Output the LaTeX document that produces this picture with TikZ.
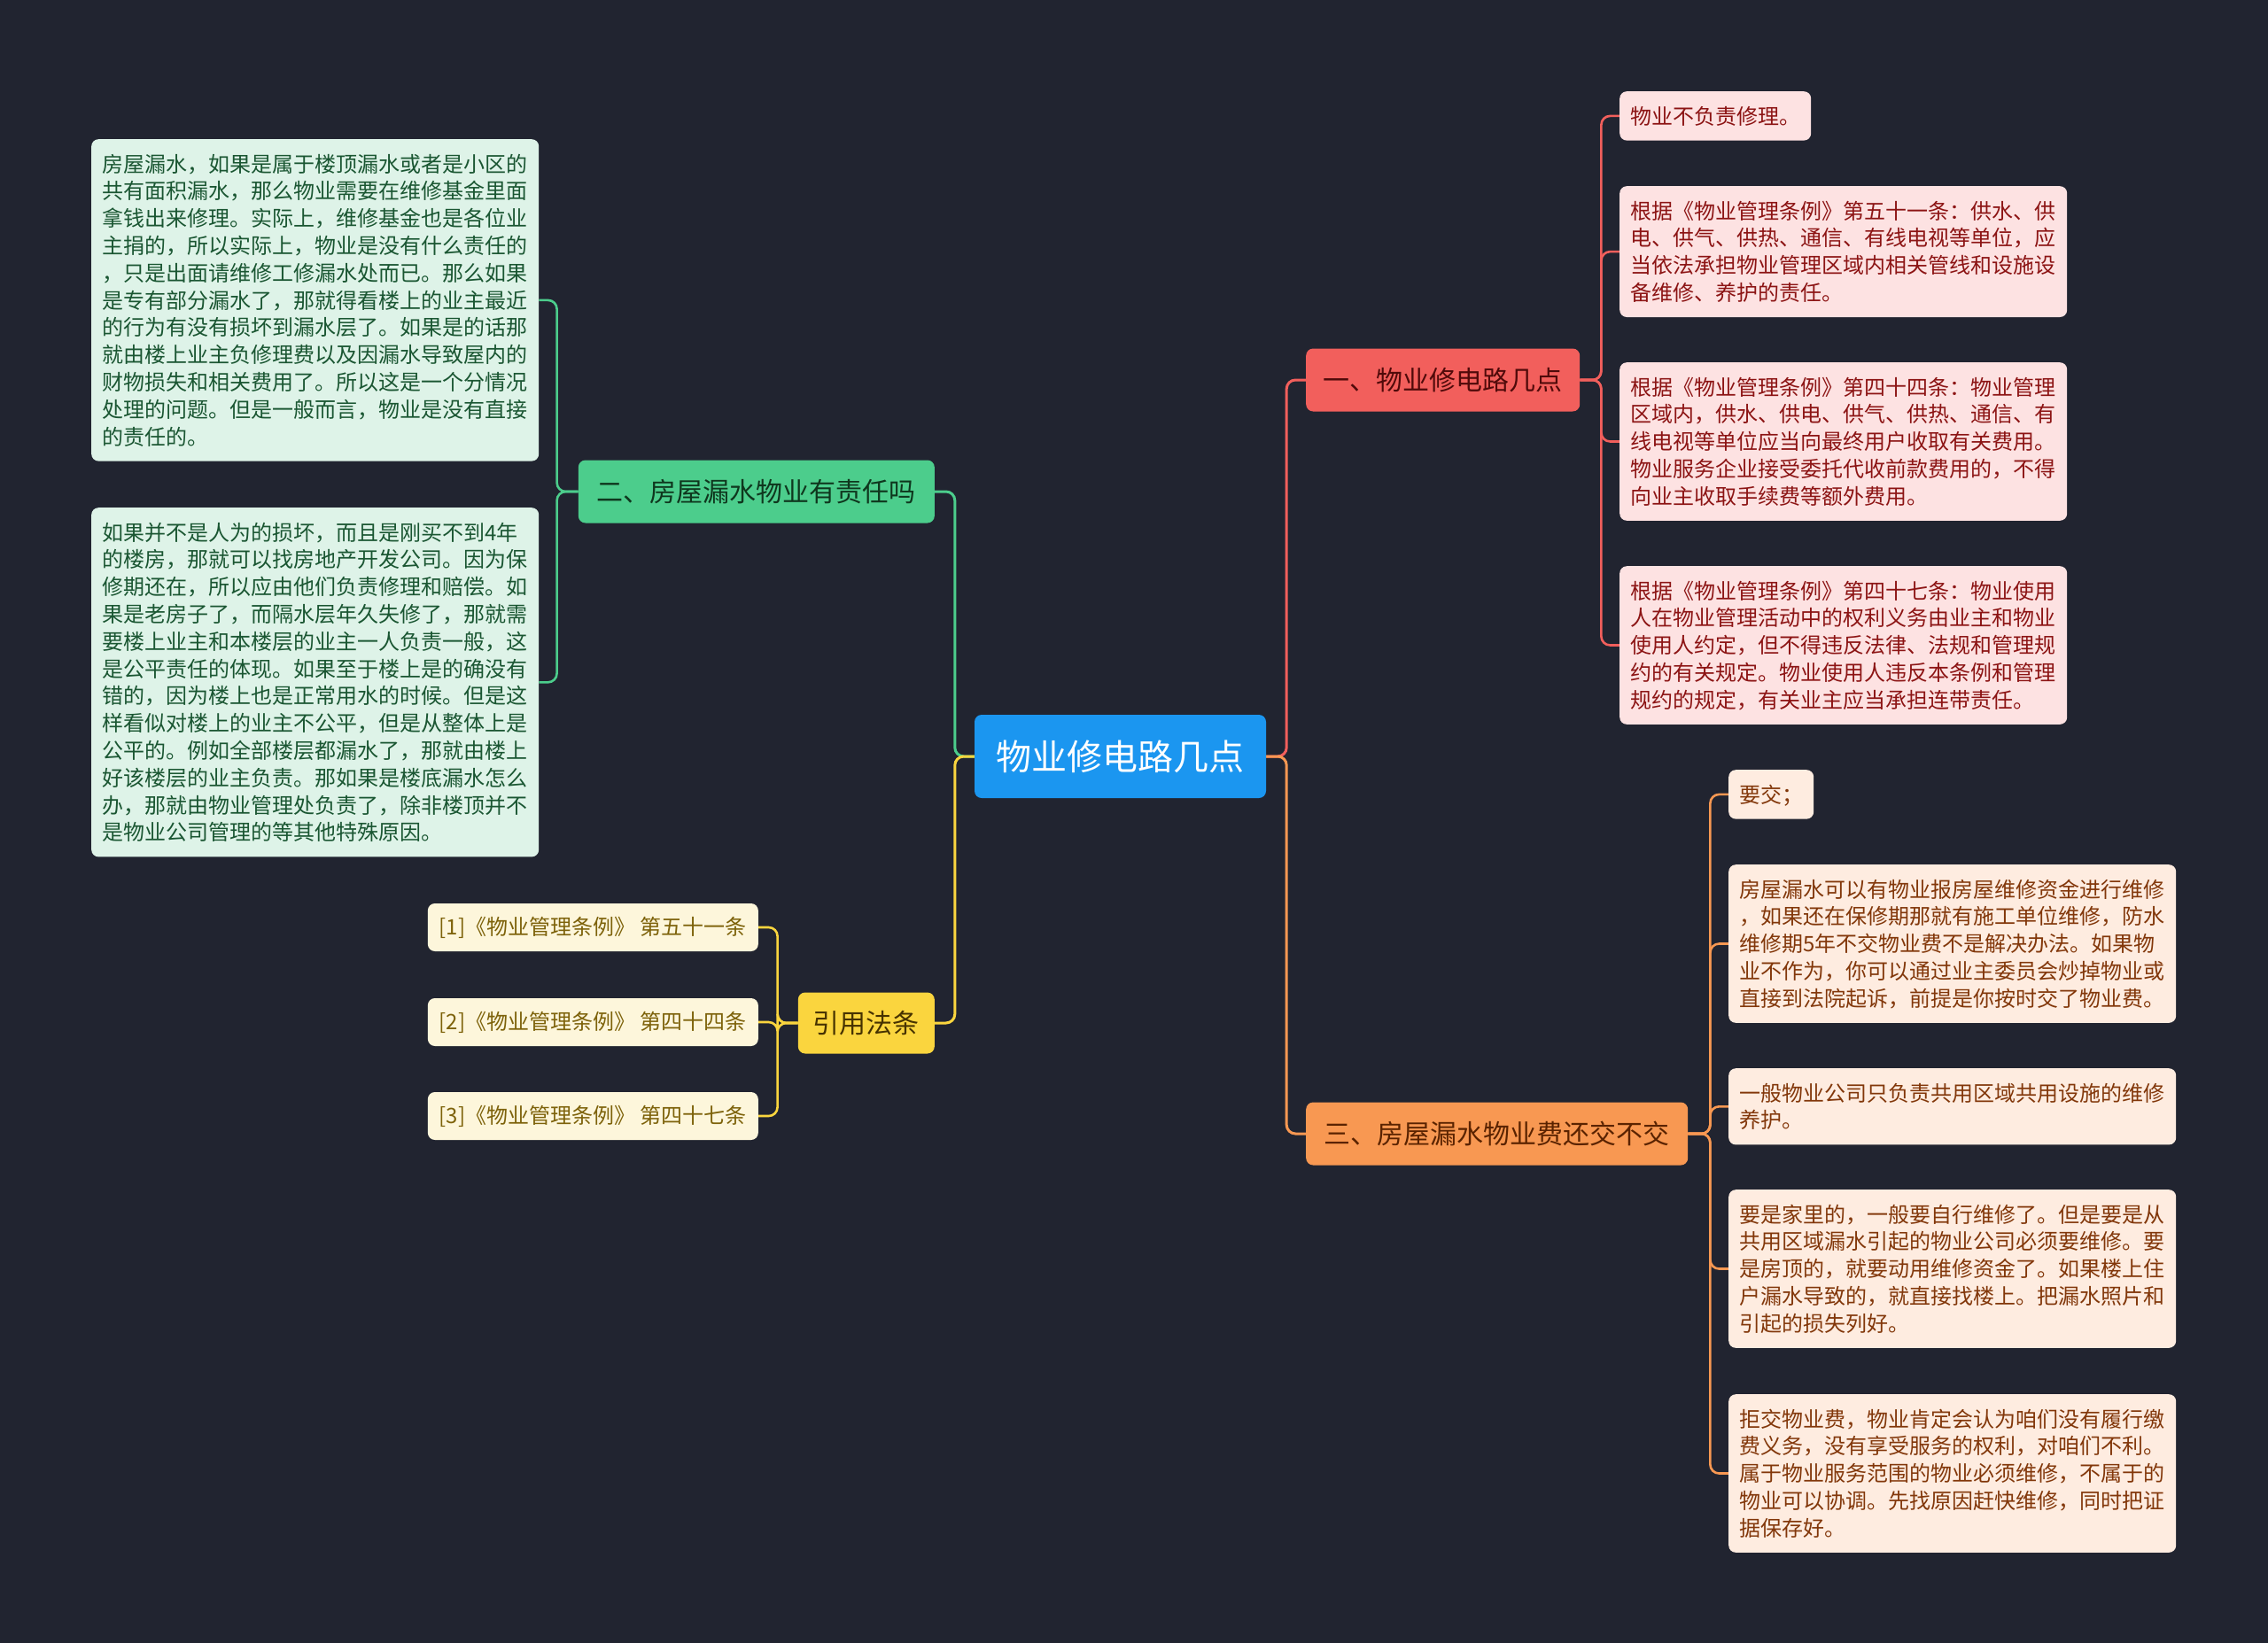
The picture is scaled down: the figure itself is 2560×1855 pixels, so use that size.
\documentclass[tikz,border=0pt]{standalone}
\usepackage{fontspec}
\setmainfont{Noto Sans CJK SC}
\usetikzlibrary{calc}
\definecolor{bgc}{RGB}{33,36,48}
\definecolor{rootfill}{RGB}{27,150,240}
\definecolor{aone}{RGB}{242,95,92}
\definecolor{aonetext}{RGB}{80,10,10}
\definecolor{atwo}{RGB}{76,205,140}
\definecolor{atwotext}{RGB}{15,55,30}
\definecolor{athree}{RGB}{248,152,82}
\definecolor{athreetext}{RGB}{90,35,0}
\definecolor{afour}{RGB}{250,213,62}
\definecolor{afourtext}{RGB}{70,50,0}
\definecolor{gfill}{RGB}{222,243,232}
\definecolor{gtext}{RGB}{26,86,50}
\definecolor{pfill}{RGB}{253,226,226}
\definecolor{ptext}{RGB}{140,20,20}
\definecolor{mfill}{RGB}{254,236,224}
\definecolor{mtext}{RGB}{130,55,10}
\definecolor{cfill}{RGB}{253,246,219}
\definecolor{ctext}{RGB}{125,98,10}
\newcommand\tstrut{\rule{0pt}{24.6pt}}
\newcommand\bstrut{\rule[-6.2pt]{0pt}{0pt}}
\pgfdeclarelayer{bglayer}
\pgfdeclarelayer{linelayer}
\pgfsetlayers{bglayer,linelayer,main}
\begin{document}
\begin{tikzpicture}[x=1pt,y=-1pt,
  rootbox/.style={rounded corners=8pt, fill=rootfill, text=white, minimum width=329pt, minimum height=94pt, inner sep=0pt, font=\fontsize{40}{48}\selectfont},
  branchbox/.style={rounded corners=8pt, minimum height=71pt, inner sep=0pt, font=\fontsize{30}{36}\selectfont},
  leafbase/.style={rounded corners=8pt, inner xsep=12pt, inner ysep=12.3pt, align=left, anchor=north west},
  gleaf/.style={leafbase, fill=gfill, text=gtext, text width=481pt, font=\fontsize{24}{30.8}\selectfont},
  pleafshort/.style={leafbase, fill=pfill, text=ptext, font=\fontsize{24}{30.8}\selectfont},
  pleaf/.style={pleafshort, text width=481pt},
  mleafshort/.style={leafbase, fill=mfill, text=mtext, font=\fontsize{24}{30.8}\selectfont},
  mleaf/.style={mleafshort, text width=481pt},
  cleaf/.style={rounded corners=8pt, fill=cfill, text=ctext, inner xsep=13pt, inner ysep=0pt, minimum height=54pt, anchor=east, font=\fontsize{24}{30}\selectfont},
  conn/.style={line width=3pt, rounded corners=10pt},
  leafconn/.style={line width=2.6pt, rounded corners=10pt}
]
\begin{pgfonlayer}{bglayer}
\fill[bgc] (0,0) rectangle (2560,1855);
\end{pgfonlayer}
\useasboundingbox (0,0) rectangle (2560,1855);

% root and branches
\node[rootbox] (root) at (1264.5,854) {物业修电路几点};
\node[branchbox, fill=aone, text=aonetext, minimum width=309pt, anchor=west] (b1) at (1474,429) {一、物业修电路几点};
\node[branchbox, fill=atwo, text=atwotext, minimum width=402pt, anchor=east] (b2) at (1055,555) {二、房屋漏水物业有责任吗};
\node[branchbox, fill=athree, text=athreetext, minimum width=431pt, anchor=west] (b3) at (1474,1280) {三、房屋漏水物业费还交不交};
\node[branchbox, fill=afour, text=afourtext, minimum width=154pt, minimum height=69pt, anchor=east] (b4) at (1055,1155) {引用法条};

% green leaves
\node[gleaf] (gA) at (103,157) {\tstrut 房屋漏水，如果是属于楼顶漏水或者是小区的\\共有面积漏水，那么物业需要在维修基金里面\\拿钱出来修理。实际上，维修基金也是各位业\\主捐的，所以实际上，物业是没有什么责任的\\，只是出面请维修工修漏水处而已。那么如果\\是专有部分漏水了，那就得看楼上的业主最近\\的行为有没有损坏到漏水层了。如果是的话那\\就由楼上业主负修理费以及因漏水导致屋内的\\财物损失和相关费用了。所以这是一个分情况\\处理的问题。但是一般而言，物业是没有直接\\的责任的。\bstrut};
\node[gleaf] (gB) at (103,573) {\tstrut 如果并不是人为的损坏，而且是刚买不到4年\\的楼房，那就可以找房地产开发公司。因为保\\修期还在，所以应由他们负责修理和赔偿。如\\果是老房子了，而隔水层年久失修了，那就需\\要楼上业主和本楼层的业主一人负责一般，这\\是公平责任的体现。如果至于楼上是的确没有\\错的，因为楼上也是正常用水的时候。但是这\\样看似对楼上的业主不公平，但是从整体上是\\公平的。例如全部楼层都漏水了，那就由楼上\\好该楼层的业主负责。那如果是楼底漏水怎么\\办，那就由物业管理处负责了，除非楼顶并不\\是物业公司管理的等其他特殊原因。\bstrut};

% pink leaves
\node[pleafshort] (p1) at (1828,103) {\tstrut 物业不负责修理。\bstrut};
\node[pleaf] (p2) at (1828,210) {\tstrut 根据《物业管理条例》第五十一条：供水、供\\电、供气、供热、通信、有线电视等单位，应\\当依法承担物业管理区域内相关管线和设施设\\备维修、养护的责任。\bstrut};
\node[pleaf] (p3) at (1828,409) {\tstrut 根据《物业管理条例》第四十四条：物业管理\\区域内，供水、供电、供气、供热、通信、有\\线电视等单位应当向最终用户收取有关费用。\\物业服务企业接受委托代收前款费用的，不得\\向业主收取手续费等额外费用。\bstrut};
\node[pleaf] (p4) at (1828,639) {\tstrut 根据《物业管理条例》第四十七条：物业使用\\人在物业管理活动中的权利义务由业主和物业\\使用人约定，但不得违反法律、法规和管理规\\约的有关规定。物业使用人违反本条例和管理\\规约的规定，有关业主应当承担连带责任。\bstrut};

% peach leaves
\node[mleafshort] (m1) at (1951,869) {\tstrut 要交；\bstrut};
\node[mleaf] (m2) at (1951,976) {\tstrut 房屋漏水可以有物业报房屋维修资金进行维修\\，如果还在保修期那就有施工单位维修，防水\\维修期5年不交物业费不是解决办法。如果物\\业不作为，你可以通过业主委员会炒掉物业或\\直接到法院起诉，前提是你按时交了物业费。\bstrut};
\node[mleaf] (m3) at (1951,1206) {\tstrut 一般物业公司只负责共用区域共用设施的维修\\养护。\bstrut};
\node[mleaf] (m4) at (1951,1343) {\tstrut 要是家里的，一般要自行维修了。但是要是从\\共用区域漏水引起的物业公司必须要维修。要\\是房顶的，就要动用维修资金了。如果楼上住\\户漏水导致的，就直接找楼上。把漏水照片和\\引起的损失列好。\bstrut};
\node[mleaf] (m5) at (1951,1574) {\tstrut 拒交物业费，物业肯定会认为咱们没有履行缴\\费义务，没有享受服务的权利，对咱们不利。\\属于物业服务范围的物业必须维修，不属于的\\物业可以协调。先找原因赶快维修，同时把证\\据保存好。\bstrut};

% cream leaves
\node[cleaf] (r1) at (856,1047) {[1]《物业管理条例》 第五十一条};
\node[cleaf] (r2) at (856,1154) {[2]《物业管理条例》 第四十四条};
\node[cleaf] (r3) at (856,1260) {[3]《物业管理条例》 第四十七条};

\begin{pgfonlayer}{linelayer}
% root to branches
\draw[conn, atwo] (root.west) -- ++(-22,0) |- (b2.east);
\draw[conn, afour] (root.west) -- ++(-22,0) |- (b4.east);
\draw[conn, aone] (root.east) -- ++(23,0) |- (b1.west);
\draw[conn, athree] (root.east) -- ++(23,0) |- (b3.west);
% branch 1
\foreach \n in {p1,p2,p3,p4}
  \draw[leafconn, aone] (b1.east) -- ++(24,0) |- (\n.west);
% branch 2
\foreach \n in {gA,gB}
  \draw[leafconn, atwo] (b2.west) -- ++(-24,0) |- (\n.east);
% branch 3
\foreach \n in {m1,m2,m3,m4,m5}
  \draw[leafconn, athree] (b3.east) -- ++(25,0) |- (\n.west);
% branch 4
\foreach \n in {r1,r2,r3}
  \draw[leafconn, afour] (b4.west) -- ++(-23,0) |- (\n.east);
\end{pgfonlayer}
\end{tikzpicture}
\end{document}
